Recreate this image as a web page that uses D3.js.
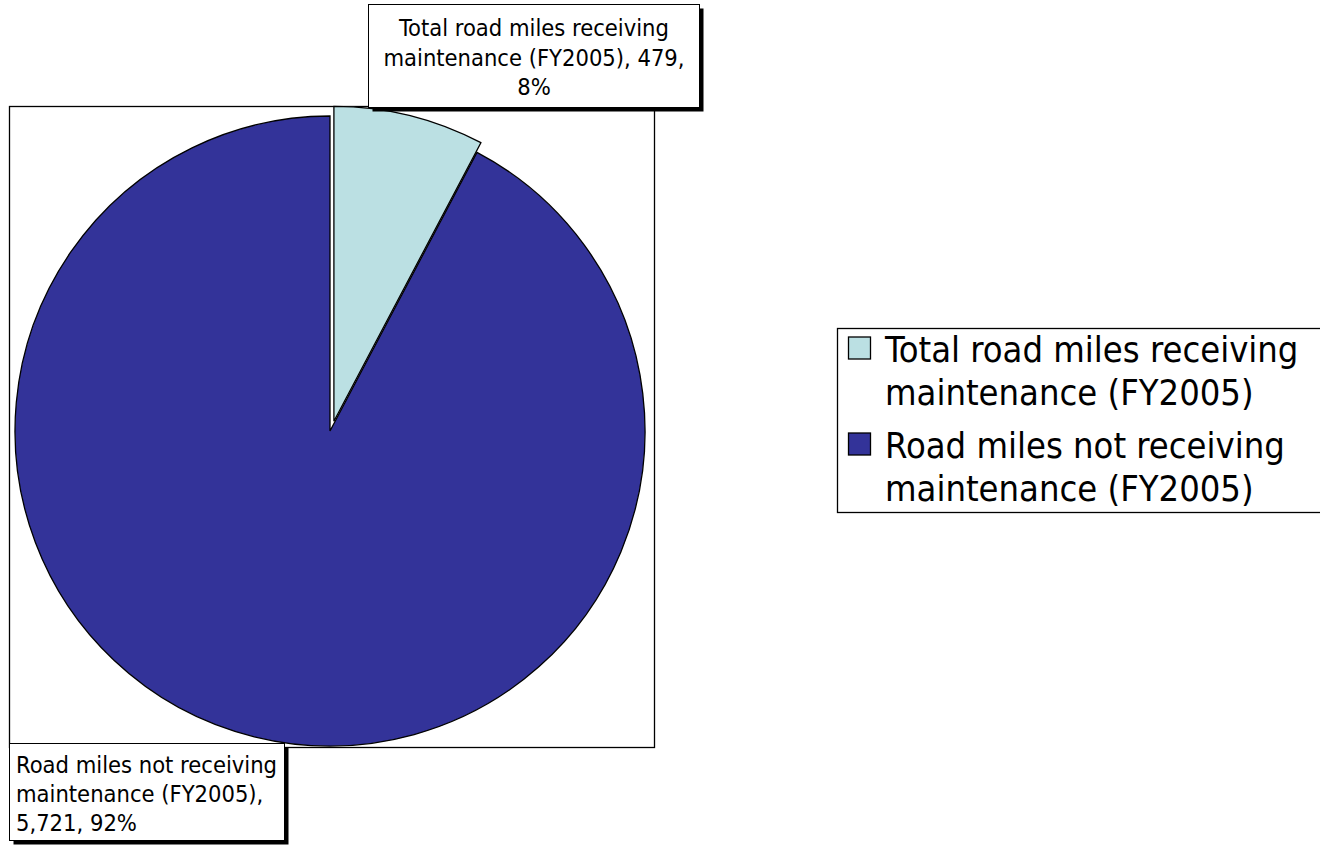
<!DOCTYPE html>
<html>
<head>
<meta charset="utf-8">
<script src="https://cdn.jsdelivr.net/npm/d3@7"></script>
<style>
  body { margin: 0; background: #fff; }
  svg { display: block; }
  text { font-family: "DejaVu Sans Condensed", "DejaVu Sans", sans-serif; font-stretch: condensed; fill: #000; }
</style>
</head>
<body>
<svg id="chart" width="1320" height="847"></svg>
<script>
const categories = [
  "Total road miles receiving maintenance (FY2005)",
  "Road miles not receiving maintenance (FY2005)"
];
const values = [479, 5721];
const percents = ["8%", "92%"];
const colors = ["#BBE0E3", "#333399"];
const labelLines = [
  ["Total road miles receiving", "maintenance (FY2005), 479,", "8%"],
  ["Road miles not receiving", "maintenance (FY2005),", "5,721, 92%"]
];
const legendLines = [
  ["Total road miles receiving", "maintenance (FY2005)"],
  ["Road miles not receiving", "maintenance (FY2005)"]
];

const svg = d3.select("#chart");

// plot area frame
svg.append("rect")
  .attr("x", 9.5).attr("y", 106.5)
  .attr("width", 645).attr("height", 641)
  .attr("fill", "none").attr("stroke", "#000").attr("stroke-width", 1.3);

const cx = 330, cy = 431, r = 315;
const pie = d3.pie().sort(null).value(d => d)(values);
const arc = d3.arc().innerRadius(0).outerRadius(r);

const g = svg.append("g").attr("transform", `translate(${cx},${cy})`);
g.selectAll("path")
  .data(pie)
  .join("path")
  .attr("transform", (d, i) => {
    if (i !== 0) return null;
    const a = (d.startAngle + d.endAngle) / 2;
    const off = 10;
    return `translate(${Math.sin(a) * off + 1.5},${-Math.cos(a) * off})`;
  })
  .attr("d", arc)
  .attr("fill", (d, i) => colors[i])
  .attr("stroke", "#000")
  .attr("stroke-width", 1.3);

// data labels with shadow
function labelBox(x, y, w, h, lines, anchor, tx, ty, lh) {
  svg.append("rect")
    .attr("x", x + 4).attr("y", y + 4).attr("width", w).attr("height", h)
    .attr("fill", "#000");
  svg.append("rect")
    .attr("x", x).attr("y", y).attr("width", w).attr("height", h)
    .attr("fill", "#fff").attr("stroke", "#000").attr("stroke-width", 1);
  const t = svg.append("text")
    .attr("text-anchor", anchor)
    .attr("font-size", 23.5);
  lines.forEach((l, i) => {
    t.append("tspan").attr("x", tx).attr("y", ty + i * lh).text(l);
  });
}
labelBox(368.5, 4.5, 331, 103, labelLines[0], "middle", 534, 36, 29.5);
labelBox(9.5, 743.5, 275, 97, labelLines[1], "start", 16, 773, 29);

// legend
const lg = svg.append("g");
lg.append("rect")
  .attr("x", 837.5).attr("y", 328.5).attr("width", 500).attr("height", 184)
  .attr("fill", "#fff").attr("stroke", "#000").attr("stroke-width", 1.3);
legendLines.forEach((lines, i) => {
  const base = 362 + i * 96;
  lg.append("rect")
    .attr("x", 848.5).attr("y", base - 25).attr("width", 22).attr("height", 22)
    .attr("fill", colors[i]).attr("stroke", "#000").attr("stroke-width", 1.3);
  const t = lg.append("text").attr("font-size", 36);
  lines.forEach((l, j) => {
    t.append("tspan").attr("x", 885).attr("y", base + j * 43).text(l);
  });
});
</script>
</body>
</html>
